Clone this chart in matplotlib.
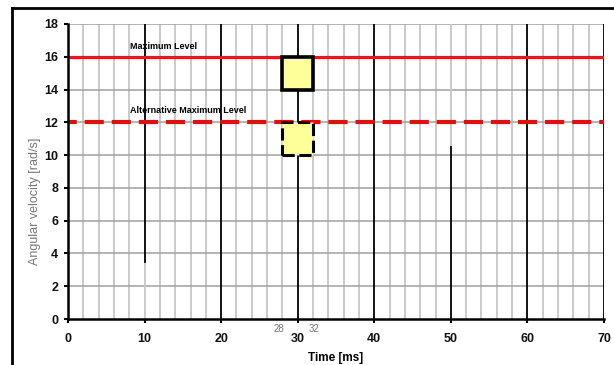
import matplotlib
matplotlib.use("Agg")
import matplotlib.pyplot as plt
from matplotlib.patches import Rectangle

plt.rcParams['font.family'] = ['Liberation Sans', 'DejaVu Sans']

# Axis ranges and ticks
x_min, x_max = 0, 70
y_min, y_max = 0, 18
x_major = [0, 10, 20, 30, 40, 50, 60, 70]
x_minor = [v for v in range(0, 71, 2)]
y_major = [0, 2, 4, 6, 8, 10, 12, 14, 16, 18]

# Threshold levels
max_level = 16
alt_max_level = 12
level_names = ["Maximum Level", "Alternative Maximum Level"]

# Highlight windows (time range and level band)
window_t = [28, 32]
window_bands = [(14, 16), (10, 12)]
extra_ticks = [28, 32]

fig = plt.figure(figsize=(6.14, 3.65), dpi=100)
ax = fig.add_axes([68 / 614, 1 - 319 / 365, 536 / 614, 295 / 365])
ax.set_xlim(x_min, x_max)
ax.set_ylim(y_min, y_max)

# Light vertical grid every 2 ms
for xv in x_minor:
    if xv % 10 != 0:
        ax.axvline(xv, color="#c6c6c6", lw=1.3, zorder=1)
# Horizontal grid
for yv in y_major[1:]:
    ax.axhline(yv, color="#a0a0a0", lw=1.1, zorder=1)

# Heavy vertical lines every 10 ms
for xv in x_major[1:]:
    if xv == 10:
        ax.plot([xv, xv], [y_min, 3.5], color="#c6c6c6", lw=1.3, zorder=2)
        ax.plot([xv, xv], [3.5, y_max], color="black", lw=1.3, zorder=2)
    elif xv == 50:
        ax.plot([xv, xv], [10.5, y_max], color="#c6c6c6", lw=1.3, zorder=2)
        ax.plot([xv, xv], [y_min, 10.5], color="black", lw=1.3, zorder=2)
    else:
        ax.axvline(xv, color="black", lw=1.3, zorder=2)

# Level lines
ax.plot([x_min, x_max], [max_level, max_level], color="#d42020", lw=2.3,
        solid_capstyle="butt", zorder=3)
ax.plot([x_min, x_max], [alt_max_level, alt_max_level], color="#e01010", lw=3.0,
        linestyle=(2.5, (4.6, 1.9)), zorder=3)

# Windows
(b0lo, b0hi), (b1lo, b1hi) = window_bands
ax.add_patch(Rectangle((window_t[0], b0lo), window_t[1] - window_t[0], b0hi - b0lo,
                       facecolor="#ffff99", edgecolor="black", lw=2.6, zorder=4))
ax.add_patch(Rectangle((window_t[0], b1lo), window_t[1] - window_t[0], b1hi - b1lo,
                       facecolor="#ffff99", edgecolor="black", lw=2.2,
                       linestyle=(0, (4, 1.5)), zorder=4))

# Level labels
ax.text(8.1, 16.6, level_names[0], fontsize=6.5, fontweight="bold", ha="left",
        va="center", zorder=5)
ax.text(8.1, 12.7, level_names[1], fontsize=6.5, fontweight="bold", ha="left",
        va="center", zorder=5)

# Spines
for s in ["top", "right"]:
    ax.spines[s].set_visible(False)
for s in ["left", "bottom"]:
    ax.spines[s].set_linewidth(1.8)
    ax.spines[s].set_zorder(6)

ax.set_xticks(x_major)
ax.set_yticks(y_major)
ax.tick_params(axis="both", direction="out", length=3, width=1.5, labelsize=9,
               colors="black")
ax.tick_params(axis="x", pad=7)
ax.tick_params(axis="y", pad=4)
for lbl in ax.get_xticklabels() + ax.get_yticklabels():
    lbl.set_fontweight("bold")
    lbl.set_color("#111111")

# Additional window-edge labels
for t, xpos in zip(extra_ticks, [27.6, 32.2]):
    ax.text(xpos, -0.6, str(t), fontsize=7, color="#777777", ha="center", va="center")

ax.set_xlabel("Time [ms]", fontsize=8.5, fontweight="bold", labelpad=5)
ax.set_ylabel("Angular velocity [rad/s]", fontsize=9, color="#777777")
ax.yaxis.set_label_coords(-0.05, 0.4)

# Outer frame
fig.add_artist(plt.Line2D([12 / 614, 12 / 614], [0, 1 - 8 / 365], color="black",
                          lw=2, transform=fig.transFigure))
fig.add_artist(plt.Line2D([12 / 614, 1], [1 - 8 / 365, 1 - 8 / 365], color="black",
                          lw=2, transform=fig.transFigure))

fig.savefig("out.png", dpi=100)
